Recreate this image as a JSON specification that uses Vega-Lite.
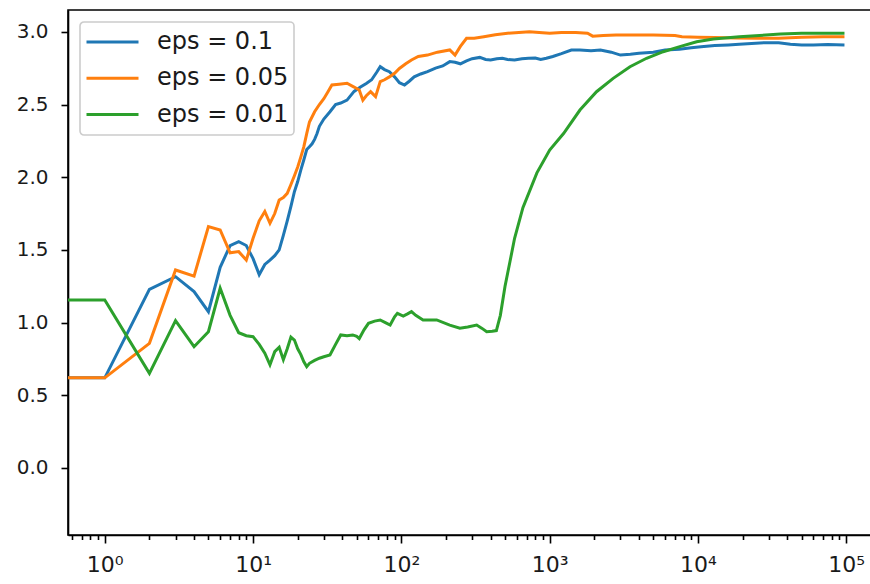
{
  "$schema": "https://vega.github.io/schema/vega-lite/v6.json",
  "width": 803,
  "height": 525,
  "autosize": {"type": "none"},
  "padding": {"left": 68, "top": 10, "right": 0, "bottom": 49},
  "background": "white",
  "datasets": {
    "blue": [
      {"x": 0.5, "y": 0.62}, {"x": 1, "y": 0.62}, {"x": 2, "y": 1.229}, {"x": 3, "y": 1.316}, {"x": 4, "y": 1.213},
      {"x": 5, "y": 1.075}, {"x": 6, "y": 1.38}, {"x": 7, "y": 1.53}, {"x": 8, "y": 1.556}, {"x": 9, "y": 1.53},
      {"x": 10, "y": 1.44}, {"x": 11, "y": 1.33}, {"x": 12, "y": 1.4}, {"x": 13, "y": 1.43}, {"x": 14, "y": 1.46},
      {"x": 15, "y": 1.5}, {"x": 16, "y": 1.6}, {"x": 17, "y": 1.7}, {"x": 18, "y": 1.8}, {"x": 19, "y": 1.9},
      {"x": 20, "y": 1.97}, {"x": 21, "y": 2.05}, {"x": 22, "y": 2.12}, {"x": 23, "y": 2.19}, {"x": 24, "y": 2.21},
      {"x": 25, "y": 2.23}, {"x": 26, "y": 2.26}, {"x": 27, "y": 2.3}, {"x": 28, "y": 2.35}, {"x": 30, "y": 2.4},
      {"x": 33, "y": 2.45}, {"x": 36, "y": 2.5}, {"x": 39, "y": 2.51}, {"x": 43, "y": 2.53}, {"x": 48, "y": 2.59},
      {"x": 53, "y": 2.62}, {"x": 58, "y": 2.645}, {"x": 63, "y": 2.67}, {"x": 68, "y": 2.72}, {"x": 72, "y": 2.76},
      {"x": 77, "y": 2.74}, {"x": 83, "y": 2.726}, {"x": 90, "y": 2.69}, {"x": 97, "y": 2.65}, {"x": 105, "y": 2.634},
      {"x": 113, "y": 2.66}, {"x": 122, "y": 2.69}, {"x": 135, "y": 2.71}, {"x": 150, "y": 2.726}, {"x": 170, "y": 2.75},
      {"x": 190, "y": 2.765}, {"x": 212, "y": 2.795}, {"x": 230, "y": 2.79}, {"x": 250, "y": 2.78}, {"x": 275, "y": 2.8},
      {"x": 300, "y": 2.815}, {"x": 338, "y": 2.824}, {"x": 370, "y": 2.81}, {"x": 400, "y": 2.806}, {"x": 440, "y": 2.815},
      {"x": 480, "y": 2.818}, {"x": 520, "y": 2.81}, {"x": 580, "y": 2.806}, {"x": 650, "y": 2.815}, {"x": 720, "y": 2.818},
      {"x": 800, "y": 2.82}, {"x": 870, "y": 2.81}, {"x": 950, "y": 2.818}, {"x": 1050, "y": 2.83}, {"x": 1200, "y": 2.85},
      {"x": 1400, "y": 2.875}, {"x": 1600, "y": 2.875}, {"x": 1900, "y": 2.87}, {"x": 2200, "y": 2.875}, {"x": 2600, "y": 2.86},
      {"x": 3000, "y": 2.84}, {"x": 3500, "y": 2.845}, {"x": 4000, "y": 2.852}, {"x": 5000, "y": 2.86}, {"x": 6000, "y": 2.875},
      {"x": 7500, "y": 2.88}, {"x": 9000, "y": 2.89}, {"x": 10500, "y": 2.898}, {"x": 13000, "y": 2.905}, {"x": 16000, "y": 2.91},
      {"x": 19000, "y": 2.915}, {"x": 23000, "y": 2.92}, {"x": 28000, "y": 2.925}, {"x": 35000, "y": 2.925}, {"x": 42000, "y": 2.915},
      {"x": 50000, "y": 2.91}, {"x": 60000, "y": 2.91}, {"x": 75000, "y": 2.912}, {"x": 95000, "y": 2.91}
    ],
    "orange": [
      {"x": 0.5, "y": 0.62}, {"x": 1, "y": 0.62}, {"x": 2, "y": 0.857}, {"x": 3, "y": 1.362}, {"x": 4, "y": 1.32},
      {"x": 5, "y": 1.66}, {"x": 6, "y": 1.637}, {"x": 7, "y": 1.48}, {"x": 8, "y": 1.488}, {"x": 9, "y": 1.43},
      {"x": 10, "y": 1.58}, {"x": 11, "y": 1.7}, {"x": 12, "y": 1.764}, {"x": 13, "y": 1.683}, {"x": 14, "y": 1.75},
      {"x": 15, "y": 1.843}, {"x": 16, "y": 1.86}, {"x": 17, "y": 1.889}, {"x": 18, "y": 1.95}, {"x": 19, "y": 2.01},
      {"x": 20, "y": 2.07}, {"x": 21, "y": 2.14}, {"x": 22, "y": 2.21}, {"x": 23, "y": 2.3}, {"x": 24, "y": 2.38},
      {"x": 26, "y": 2.45}, {"x": 28, "y": 2.5}, {"x": 30, "y": 2.54}, {"x": 32, "y": 2.588}, {"x": 34, "y": 2.634},
      {"x": 38, "y": 2.64}, {"x": 43, "y": 2.646}, {"x": 48, "y": 2.62}, {"x": 52, "y": 2.6}, {"x": 55, "y": 2.53},
      {"x": 58, "y": 2.56}, {"x": 62, "y": 2.588}, {"x": 67, "y": 2.554}, {"x": 72, "y": 2.657}, {"x": 77, "y": 2.67},
      {"x": 83, "y": 2.69}, {"x": 90, "y": 2.715}, {"x": 97, "y": 2.748}, {"x": 107, "y": 2.78}, {"x": 117, "y": 2.806},
      {"x": 130, "y": 2.83}, {"x": 150, "y": 2.84}, {"x": 175, "y": 2.86}, {"x": 212, "y": 2.875}, {"x": 230, "y": 2.84},
      {"x": 250, "y": 2.9}, {"x": 275, "y": 2.955}, {"x": 310, "y": 2.955}, {"x": 360, "y": 2.966}, {"x": 430, "y": 2.98},
      {"x": 520, "y": 2.99}, {"x": 620, "y": 2.995}, {"x": 730, "y": 3.0}, {"x": 850, "y": 2.995}, {"x": 1000, "y": 2.99},
      {"x": 1200, "y": 2.995}, {"x": 1500, "y": 2.995}, {"x": 1800, "y": 2.99}, {"x": 1950, "y": 2.97}, {"x": 2300, "y": 2.975},
      {"x": 2800, "y": 2.978}, {"x": 3500, "y": 2.978}, {"x": 5000, "y": 2.978}, {"x": 7000, "y": 2.975}, {"x": 7800, "y": 2.966},
      {"x": 10000, "y": 2.962}, {"x": 13000, "y": 2.96}, {"x": 18000, "y": 2.958}, {"x": 25000, "y": 2.955}, {"x": 35000, "y": 2.955},
      {"x": 50000, "y": 2.962}, {"x": 70000, "y": 2.966}, {"x": 95000, "y": 2.966}
    ],
    "green": [
      {"x": 0.5, "y": 1.155}, {"x": 1, "y": 1.155}, {"x": 2, "y": 0.651}, {"x": 3, "y": 1.013}, {"x": 4, "y": 0.834},
      {"x": 5, "y": 0.937}, {"x": 6, "y": 1.236}, {"x": 7, "y": 1.05}, {"x": 8, "y": 0.93}, {"x": 9, "y": 0.91},
      {"x": 10, "y": 0.903}, {"x": 11, "y": 0.85}, {"x": 12, "y": 0.79}, {"x": 13, "y": 0.71}, {"x": 14, "y": 0.8},
      {"x": 15, "y": 0.83}, {"x": 16, "y": 0.745}, {"x": 17, "y": 0.82}, {"x": 18, "y": 0.9}, {"x": 19, "y": 0.88},
      {"x": 20, "y": 0.82}, {"x": 21, "y": 0.78}, {"x": 22, "y": 0.73}, {"x": 23, "y": 0.697}, {"x": 24, "y": 0.72},
      {"x": 26, "y": 0.74}, {"x": 28, "y": 0.755}, {"x": 30, "y": 0.765}, {"x": 33, "y": 0.777}, {"x": 36, "y": 0.85},
      {"x": 39, "y": 0.915}, {"x": 43, "y": 0.91}, {"x": 47, "y": 0.915}, {"x": 50, "y": 0.905}, {"x": 52, "y": 0.89},
      {"x": 56, "y": 0.95}, {"x": 60, "y": 0.995}, {"x": 66, "y": 1.01}, {"x": 72, "y": 1.018}, {"x": 78, "y": 1.0},
      {"x": 84, "y": 0.983}, {"x": 90, "y": 1.04}, {"x": 94, "y": 1.064}, {"x": 103, "y": 1.045}, {"x": 110, "y": 1.06},
      {"x": 117, "y": 1.075}, {"x": 125, "y": 1.05}, {"x": 140, "y": 1.018}, {"x": 173, "y": 1.018}, {"x": 212, "y": 0.983},
      {"x": 248, "y": 0.961}, {"x": 280, "y": 0.97}, {"x": 322, "y": 0.983}, {"x": 350, "y": 0.96}, {"x": 376, "y": 0.937},
      {"x": 410, "y": 0.94}, {"x": 437, "y": 0.945}, {"x": 465, "y": 1.05}, {"x": 500, "y": 1.25}, {"x": 540, "y": 1.42},
      {"x": 580, "y": 1.58}, {"x": 660, "y": 1.79}, {"x": 820, "y": 2.03}, {"x": 1000, "y": 2.187}, {"x": 1240, "y": 2.3},
      {"x": 1600, "y": 2.462}, {"x": 2070, "y": 2.588}, {"x": 2680, "y": 2.68}, {"x": 3480, "y": 2.76}, {"x": 4500, "y": 2.818},
      {"x": 5830, "y": 2.863}, {"x": 7540, "y": 2.898}, {"x": 9800, "y": 2.932}, {"x": 12700, "y": 2.95}, {"x": 19000, "y": 2.966},
      {"x": 26000, "y": 2.975}, {"x": 36000, "y": 2.985}, {"x": 50000, "y": 2.99}, {"x": 70000, "y": 2.99}, {"x": 95000, "y": 2.99}
    ]
  },
  "encoding": {
    "x": {
      "field": "x", "type": "quantitative",
      "scale": {"type": "log", "domain": [0.565, 146800], "nice": false},
      "axis": {
        "title": null, "grid": false,
        "values": [0.6, 0.7, 0.8, 0.9, 1, 2, 3, 4, 5, 6, 7, 8, 9, 10, 20, 30, 40, 50, 60, 70, 80, 90, 100, 200, 300, 400, 500, 600, 700, 800, 900, 1000, 2000, 3000, 4000, 5000, 6000, 7000, 8000, 9000, 10000, 20000, 30000, 40000, 50000, 60000, 70000, 80000, 90000, 100000],
        "labelExpr": "datum.value == 1 ? '10⁰' : datum.value == 10 ? '10¹' : datum.value == 100 ? '10²' : datum.value == 1000 ? '10³' : datum.value == 10000 ? '10⁴' : datum.value == 100000 ? '10⁵' : ''",
        "tickSize": {"condition": {"test": "indexof([1,10,100,1000,10000,100000], datum.value) >= 0", "value": 8}, "value": 4.5},
        "labelPadding": 11,
        "labelFontSize": 22,
        "labelOverlap": false,
        "labelFlush": false
      }
    },
    "y": {
      "field": "y", "type": "quantitative",
      "scale": {"domain": [-0.461, 3.15], "nice": false, "zero": false},
      "axis": {
        "title": null, "grid": false,
        "values": [0, 0.5, 1, 1.5, 2, 2.5, 3],
        "format": ".1f",
        "tickSize": 7,
        "labelPadding": 13,
        "labelFontSize": 20
      }
    }
  },
  "layer": [
    {"data": {"name": "blue"}, "mark": {"type": "line", "clip": true, "strokeWidth": 3, "strokeCap": "square"}, "encoding": {"color": {"datum": "eps = 0.1", "type": "nominal"}}},
    {"data": {"name": "orange"}, "mark": {"type": "line", "clip": true, "strokeWidth": 3, "strokeCap": "square"}, "encoding": {"color": {"datum": "eps = 0.05", "type": "nominal"}}},
    {"data": {"name": "green"}, "mark": {"type": "line", "clip": true, "strokeWidth": 3, "strokeCap": "square"}, "encoding": {"color": {"datum": "eps = 0.01", "type": "nominal"}}}
  ],
  "resolve": {"scale": {"color": "shared"}},
  "config": {
    "font": "DejaVu Sans",
    "view": {"stroke": "#000000", "strokeWidth": 1.6},
    "axis": {
      "domainColor": "#000000", "domainWidth": 1.6, "tickColor": "#000000", "tickWidth": 1.6,
      "labelColor": "#1a1a1a", "labelFont": "DejaVu Sans"
    },
    "range": {"category": ["#1f77b4", "#ff7f0e", "#2ca02c"]},
    "legend": {
      "orient": "none", "legendX": 12, "legendY": 12,
      "title": null,
      "symbolType": "stroke", "symbolSize": 2704, "symbolStrokeWidth": 3,
      "clipHeight": 30, "rowPadding": 6.3,
      "labelFontSize": 24, "labelFont": "DejaVu Sans", "labelColor": "#1a1a1a", "labelOffset": 17,
      "padding": 5, "strokeColor": "#cccccc", "strokeWidth": 1.6, "fillColor": "rgba(255,255,255,0.8)", "cornerRadius": 4
    }
  }
}
